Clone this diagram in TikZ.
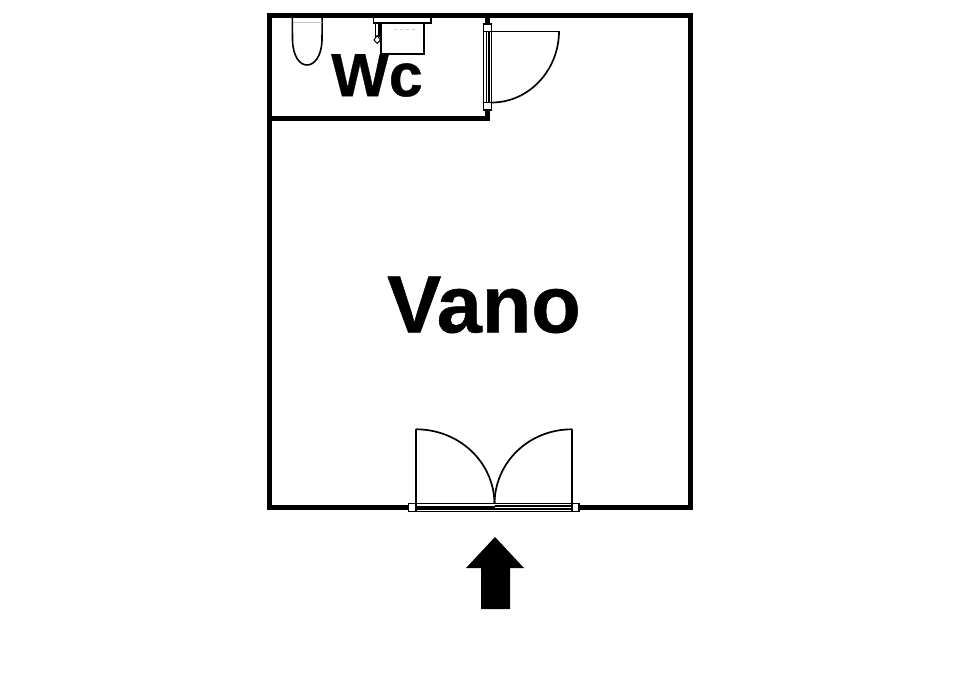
\documentclass[tikz,border=0pt]{standalone}
\usepackage{fontspec}
\setmainfont{Liberation Sans}
\newfontfamily\heavyfont[FakeBold=0.6]{Liberation Sans Bold}
\tikzset{
  wall/.style={draw=black,line width=5pt,line join=miter},
  thin line/.style={draw=black,line width=1.3pt},
  fine/.style={draw=black,line width=1.6pt},
  swing/.style={draw=black,line width=1.7pt},
  cap box/.style={draw=black,line width=1.3pt,fill=white},
  label/.style={inner sep=0pt,anchor=center,text=black}
}
\begin{document}
\begin{tikzpicture}[x=1pt,y=-1pt]
\useasboundingbox[fill=white] (0,0) rectangle (960,679);
% walls
\draw[wall] (269.5,15.2) rectangle (690.5,507.8);
\draw[wall] (269.5,118.5) -- (487.6,118.5) -- (487.6,15.2);
% door of the WC
\filldraw[fill=white,thin line] (483.5,24) rectangle (491.8,110);
\draw[thin line] (486.2,31) -- (486.2,103);
\draw[thin line] (489,31) -- (489,103);
\draw[cap box] (483.5,24) rectangle (491.8,31.5);
\draw[cap box] (483.5,102.5) rectangle (491.8,110);
\draw[thin line] (491.8,31.2) -- (559,31.2);
\draw[swing] (559,31.2) .. controls (559,70) and (529,102.5) .. (491.8,102.5);
% main double door
\filldraw[fill=white,thin line] (408.5,503.5) rectangle (579,511.8);
\fill[black] (416,505.8) rectangle (494.5,510.2);
\draw[thin line] (494.5,506) -- (572,506);
\draw[thin line] (494.5,509) -- (572,509);
\draw[cap box] (408.5,503.5) rectangle (416,511.8);
\draw[cap box] (572,503.5) rectangle (579,511.8);
\draw[thin line] (416,503.5) -- (416,429.3);
\draw[thin line] (572,503.5) -- (572,429.3);
\draw[swing] (416,429.3) .. controls (459,429.3) and (494,462) .. (494.5,503.5);
\draw[swing] (572,429.3) .. controls (529,429.3) and (495,462) .. (494.5,503.5);
% toilet
\draw[fine] (292.3,17) -- (292.5,40) .. controls (293,57) and (300,65) .. (307,65)
  .. controls (314,65) and (321.5,57) .. (322,40) -- (322.2,17);
\draw[draw=black!25,line width=0.8pt] (293,22.5) -- (321.5,22.5);
% basin
\draw[fine] (373.5,17) -- (373.5,23) -- (431,23) -- (431,17);
\draw[fine] (381,23) -- (381,54) -- (424,54) -- (424,23);
\draw[thin line] (375.5,23.5) -- (375.5,37);
\draw[thin line] (379,23.5) -- (379,37);
\filldraw[fill=white,draw=black,line width=1pt] (377.2,35.5) -- (380.5,40) -- (377.2,43.5) -- (374,40) -- cycle;
\draw[draw=black!20,line width=0.7pt,dashed] (394,29) -- (416,29);
% entry arrow
\fill[black] (495,537) -- (524,568) -- (510,568) -- (510,609) -- (481,609) -- (481,568) -- (466,568) -- cycle;
% labels
\node[label,font=\heavyfont\fontsize{61pt}{61pt}\selectfont] (wc) at (377,75.5) {Wc};
\node[label,font=\heavyfont\fontsize{81pt}{81pt}\selectfont] (vano) at (484,305) {Vano};
\end{tikzpicture}
\end{document}
